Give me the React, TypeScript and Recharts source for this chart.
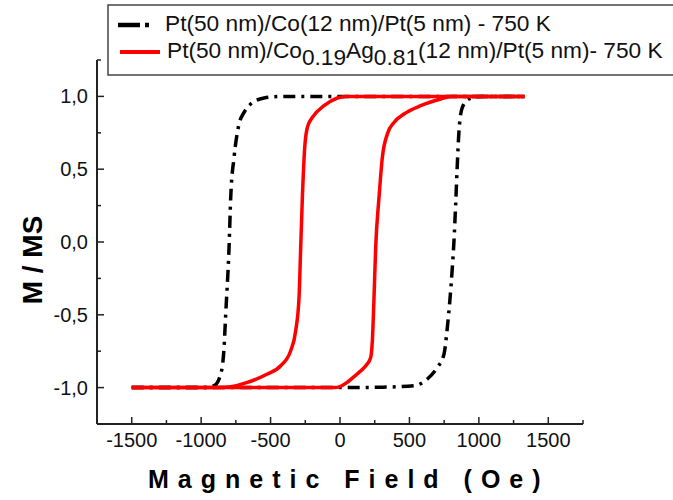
import { LineChart, Line, XAxis, YAxis } from 'recharts'

// Field ticks (Oe) every 250, labels every 500
const FIELD_TICKS = [-1750, -1500, -1250, -1000, -750, -500, -250, 0, 250, 500, 750, 1000, 1250, 1500, 1750]
const FIELD_LABELS = [-1500, -1000, -500, 0, 500, 1000, 1500]
const M_TICKS = [-1.25, -1, -0.75, -0.5, -0.25, 0, 0.25, 0.5, 0.75, 1, 1.25]
const M_LABELS = [-1, -0.5, 0, 0.5, 1]

// Pt/Co/Pt - decreasing field branch
const coDownX = [-1500, -1000, -907, -859, -835, -823, -799, -787, -763, -727, -691, -643, -547, -427, 0, 1330]
const coDownY = [-1, -1, -0.987, -0.907, -0.724, -0.495, -0.037, 0.306, 0.581, 0.81, 0.89, 0.948, 0.989, 1, 1, 1]
// Pt/Co/Pt - increasing field branch
const coUpX = [-1500, 0, 300, 533, 629, 701, 749, 773, 809, 821, 833, 845, 857, 881, 929, 1013, 1330]
const coUpY = [-1, -1, -0.997, -0.987, -0.941, -0.861, -0.77, -0.587, -0.174, 0.009, 0.261, 0.536, 0.764, 0.925, 0.982, 1, 1]

// Pt/CoAg/Pt - decreasing field branch
const agDownX = [-1500, -900, -787, -667, -523, -427, -355, -319, -295, -283, -271, -254, -235, -199, -115, -19, 41, 1330]
const agDownY = [-1, -1, -0.994, -0.964, -0.907, -0.85, -0.747, -0.609, -0.38, -0.037, 0.306, 0.65, 0.787, 0.856, 0.936, 0.989, 1, 1]
// Pt/CoAg/Pt - increasing field branch
const agUpX = [-1500, -43, 0, 50, 101, 150, 190, 221, 233, 245, 257, 281, 305, 341, 389, 461, 581, 725, 797, 1330]
const agUpY = [-1, -1, -0.993, -0.965, -0.925, -0.885, -0.845, -0.793, -0.678, -0.38, -0.037, 0.306, 0.581, 0.742, 0.821, 0.879, 0.936, 0.982, 1, 1]

const zip = (xs: number[], ys: number[]) => xs.map((x, i) => ({ x, y: ys[i] }))

const FONT = '"Liberation Sans", Arial, sans-serif'
const AXIS = '#222'

function FieldTick(props: any) {
  const { x, y, payload } = props
  const v = payload.value
  const major = FIELD_LABELS.includes(v)
  return (
    <g>
      <line x1={x} x2={x} y1={y} y2={y - (major ? 7 : 4)} stroke={AXIS} strokeWidth={1.5} />
      {major && (
        <text x={x} y={y + 23} textAnchor="middle" fontSize={20} fontFamily={FONT} fill="#111">
          {v}
        </text>
      )}
    </g>
  )
}

function MTick(props: any) {
  const { x, y, payload } = props
  const v = payload.value
  const major = M_LABELS.includes(v)
  return (
    <g>
      <line x1={x} x2={x + (major ? 7 : 4)} y1={y} y2={y} stroke={AXIS} strokeWidth={1.5} />
      {major && (
        <text x={x - 9} y={y + 7} textAnchor="end" fontSize={20} fontFamily={FONT} fill="#111">
          {v.toFixed(1).replace('.', ',')}
        </text>
      )}
    </g>
  )
}

export default function App() {
  return (
    <div style={{ position: 'absolute', left: 0, top: 0, width: 673, height: 500, overflow: 'hidden', background: '#fff' }}>
      <LineChart width={673} height={500} margin={{ top: 60, right: 90, bottom: 26, left: 37 }}>
        <XAxis
          type="number"
          dataKey="x"
          domain={[-1750, 1750]}
          ticks={FIELD_TICKS}
          interval={0}
          height={50}
          tickSize={0}
          tickMargin={0}
          tick={<FieldTick />}
          axisLine={{ stroke: AXIS, strokeWidth: 2 }}
        />
        <YAxis
          type="number"
          dataKey="y"
          domain={[-1.25, 1.25]}
          ticks={M_TICKS}
          interval={0}
          width={60}
          tickSize={0}
          tickMargin={0}
          tick={<MTick />}
          axisLine={{ stroke: AXIS, strokeWidth: 2 }}
        />
        <Line data={zip(coDownX, coDownY)} dataKey="y" type="monotone" stroke="#000" strokeWidth={3.5}
          strokeDasharray="12 6 3 6" dot={false} isAnimationActive={false} />
        <Line data={zip(coUpX, coUpY)} dataKey="y" type="monotone" stroke="#000" strokeWidth={3.5}
          strokeDasharray="12 6 3 6" dot={false} isAnimationActive={false} />
        <Line data={zip(agDownX, agDownY)} dataKey="y" type="monotone" stroke="#ff0000" strokeWidth={3.5}
          dot={false} isAnimationActive={false} />
        <Line data={zip(agUpX, agUpY)} dataKey="y" type="monotone" stroke="#ff0000" strokeWidth={3.5}
          dot={false} isAnimationActive={false} />
      </LineChart>

      <svg width={673} height={500} style={{ position: 'absolute', left: 0, top: 0, pointerEvents: 'none' }}>
        {/* legend */}
        <rect x={108} y={5} width={600} height={70} fill="#fff" stroke="#444" strokeWidth={1.5} />
        <line x1={118} x2={153} y1={25} y2={25} stroke="#000" strokeWidth={4.5} strokeDasharray="22 5 4 40" />
        <line x1={120} x2={160} y1={52} y2={52} stroke="#ff0000" strokeWidth={4} />
        <text x={165} y={31} fontSize={22.7} fontFamily={FONT} fill="#111">
          Pt(50 nm)/Co(12 nm)/Pt(5 nm) - 750 K
        </text>
        <text x={167} y={58} fontSize={22.7} fontFamily={FONT} fill="#111">
          Pt(50 nm)/Co<tspan dy={7}>0.19</tspan>
          <tspan dy={-7}>Ag</tspan>
          <tspan dy={7}>0.81</tspan>
          <tspan dy={-7}>(12 nm)/Pt(5 nm)- 750 K</tspan>
        </text>

        {/* axis titles */}
        <text transform="translate(42, 260) rotate(-90)" textAnchor="middle" fontSize={28} fontWeight="bold"
          fontFamily={FONT} fill="#000">
          M / MS
        </text>
        <text x={148} y={488} fontSize={25} fontWeight="bold" fontFamily={FONT} letterSpacing={9} fill="#000">
          Magnetic Field (Oe)
        </text>
      </svg>
    </div>
  )
}
